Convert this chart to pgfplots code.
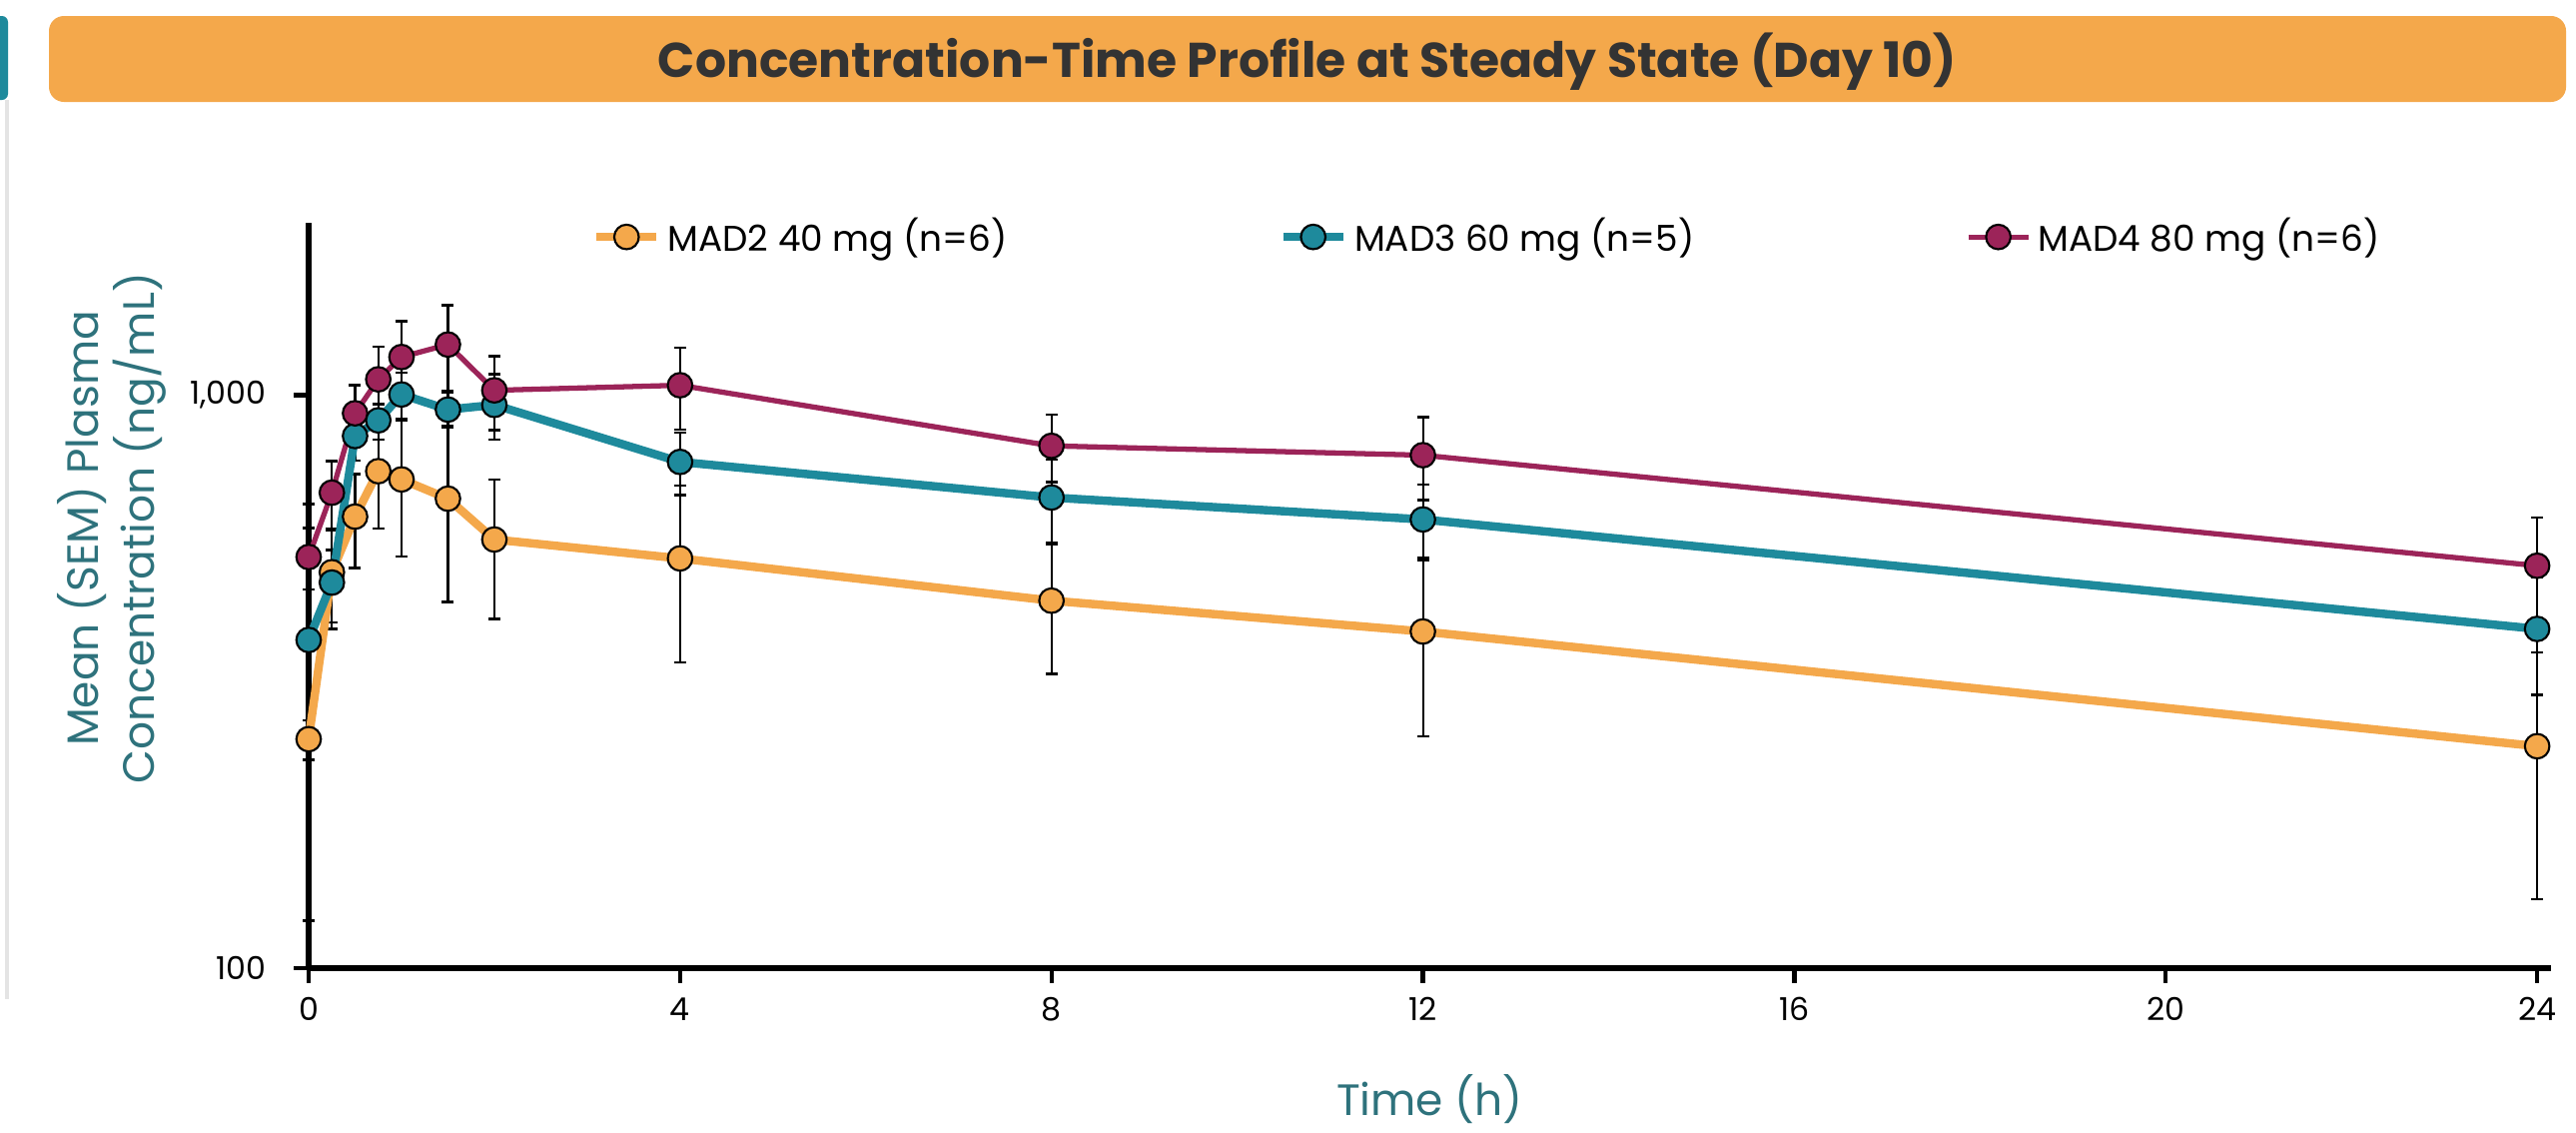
\documentclass[border=0pt]{standalone}
\usepackage{fontspec}
\setmainfont{Poppins}
\usepackage{pgfplots}
\usepackage{pgfplotstable}
\pgfplotsset{compat=1.18}

\definecolor{cOrange}{HTML}{F4A84B}
\definecolor{cTeal}{HTML}{1E8A9C}
\definecolor{cMaroon}{HTML}{9C2459}
\definecolor{cLabel}{HTML}{2E727C}
\definecolor{cTitle}{HTML}{333333}
\definecolor{cGrey}{HTML}{E4E4E4}

\pgfplotstableread{
t y ep em
0 251 20 20
0.25 491 90 90
0.5 614 115 115
0.75 737 152 152
1 713 190 190
1.5 660 224 224
2 560 153 153
4 519 177 177
8 438 112 112
12 387 133 133
24 244 112 112
}\madtwo

\pgfplotstableread{
t y ep em
0 374 272 253
0.25 471 66 80
0.5 849 80 80
0.75 904 60 67
1 1003 92 92
1.5 944 66 66
2 962 126 126
4 765 95 95
8 663 110 110
12 607 92 92
24 391 91 91
}\madthree

\pgfplotstableread{
t y ep em
0 522 64 64
0.25 676 91 91
0.5 930 112 112
0.75 1066 149 149
1 1166 181 181
1.5 1226 210 210
2 1020 151 151
4 1041 170 170
8 816 110 110
12 786 130 130
24 504 108 108
}\madfour

\begin{document}
\begin{tikzpicture}[x=1cm,y=1cm]
\useasboundingbox (0,0) rectangle (25.79,11.33);
% page decorations
\fill[cTeal, rounded corners=0.06cm] (-0.2,10.33) rectangle (0.08,11.17);
\fill[cGrey] (0.05,1.33) rectangle (0.09,10.33);
\fill[cOrange, rounded corners=0.15cm] (0.49,10.31) rectangle (25.69,11.17);
\node[anchor=base, text=cTitle, font=\fontsize{13.9}{16}\selectfont\bfseries, inner sep=0pt] at (13.09,10.56) {Concentration-Time Profile at Steady State (Day 10)};

\begin{axis}[
  at={(3.09cm,1.64cm)}, anchor=south west,
  scale only axis, width=22.45cm, height=7.46cm,
  ymode=log, ymin=100, ymax=2000,
  xmin=0, xmax=24.15,
  clip=false,
  axis x line=bottom, axis y line=left,
  axis line style={-, line width=1.6pt, black},
  xtick={0,4,8,12,16,20,24},
  ytick={100,1000}, yticklabels={100,{1,000}},
  yminorticks=false,
  tick align=outside,
  major tick length=0.15cm,
  tick style={black, line width=1.2pt},
  /pgf/number format/assume math mode=true,
  tick label style={font=\fontsize{9}{11}\selectfont, text=black},
  xticklabel style={yshift=-0.02cm},
  yticklabel style={xshift=-0.15cm},
  xlabel={Time (h)},
  xlabel style={at={(axis description cs:0.5,-0.1756)}, anchor=center, font=\fontsize{12.5}{15}\selectfont, text=cLabel},
  ylabel={Mean (SEM) Plasma\\Concentration (ng/mL)},
  ylabel style={at={(axis description cs:-0.0877,0.59)}, anchor=center, align=center, font=\fontsize{12.5}{16}\selectfont, text=cLabel},
  legend columns=3,
  legend style={at={(rel axis cs:0.1215,0.981)}, anchor=west, draw=none, fill=none,
    font=\fontsize{10.2}{12}\selectfont,
    /tikz/every odd column/.style={column sep=0cm}},
  legend cell align=left,
  error bars/error bar style={black, solid, line width=0.6pt},
  error bars/error mark options={black, solid, line width=0.7pt, mark size=0.06cm, rotate=90},
]
% error bars underneath
\addplot[forget plot, only marks, mark=none, error bars/.cd, y dir=both, y explicit]
  table[x=t, y=y, y error plus=ep, y error minus=em] {\madtwo};
\addplot[forget plot, only marks, mark=none, error bars/.cd, y dir=both, y explicit]
  table[x=t, y=y, y error plus=ep, y error minus=em] {\madthree};
\addplot[forget plot, only marks, mark=none, error bars/.cd, y dir=both, y explicit]
  table[x=t, y=y, y error plus=ep, y error minus=em] {\madfour};
% series
\addplot[cOrange, line width=2.4pt, mark=*, mark size=3.5pt, mark options={fill=cOrange, draw=black, line width=0.6pt, solid}]
  table[x=t, y=y] {\madtwo};
\addlegendentry{\makebox[6.05cm][l]{MAD2 40 mg (n=6)}}
\addplot[cTeal, line width=2.4pt, mark=*, mark size=3.5pt, mark options={fill=cTeal, draw=black, line width=0.6pt, solid}]
  table[x=t, y=y] {\madthree};
\addlegendentry{\makebox[6.05cm][l]{MAD3 60 mg (n=5)}}
\addplot[cMaroon, line width=1.5pt, mark=*, mark size=3.5pt, mark options={fill=cMaroon, draw=black, line width=0.6pt, solid}]
  table[x=t, y=y] {\madfour};
\addlegendentry{\makebox[6.05cm][l]{MAD4 80 mg (n=6)}}
\end{axis}
\end{tikzpicture}
\end{document}
